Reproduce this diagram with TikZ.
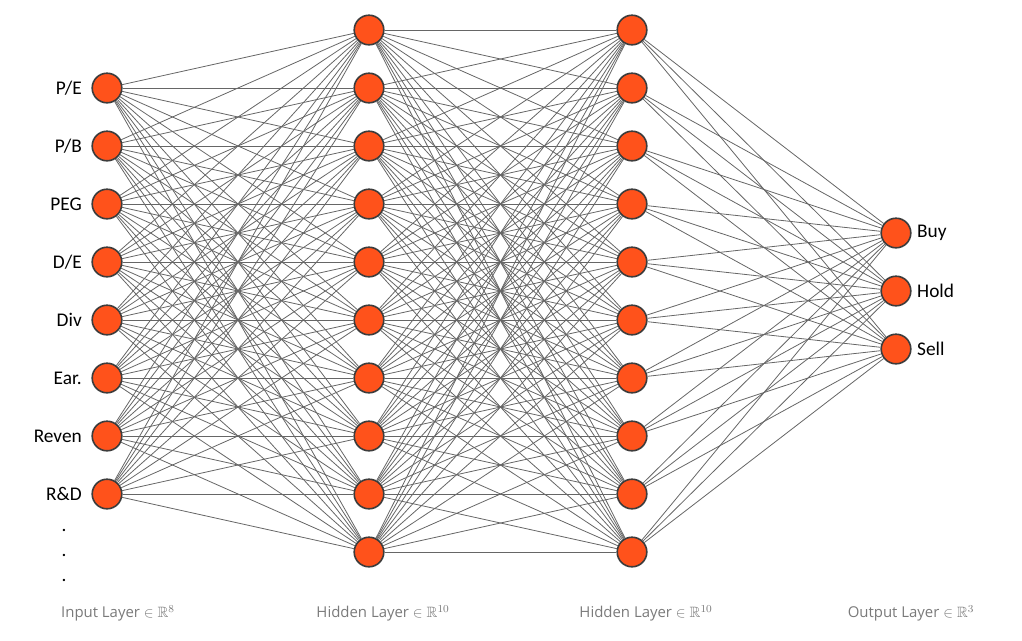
\documentclass[tikz,border=0pt]{standalone}
\usepackage{fontspec}
\usepackage{amssymb}
\setmainfont{Carlito}
\newfontfamily\capfont{Open Sans}
\usetikzlibrary{backgrounds}
\definecolor{nodeorange}{HTML}{FF521B}
\definecolor{rimgray}{HTML}{3C3C3C}
\definecolor{edgegray}{HTML}{666666}
\definecolor{captiongray}{HTML}{7A7A7A}

\begin{document}
\begin{tikzpicture}[
  x=0.75pt, y=-0.75pt,
  neuron/.style={circle, draw=rimgray, fill=nodeorange, line width=1.2pt, minimum size=22.2pt, inner sep=0pt},
  wire/.style={draw=edgegray, line width=0.6pt},
  feature/.style={font=\fontsize{14.5}{16}\selectfont, inner sep=0pt},
  caption/.style={font=\capfont\fontsize{11.2}{13}\selectfont, text=captiongray}
]
\useasboundingbox (0,0) rectangle (1022,640);
% layers
\foreach \feat [count=\i] in {P/E,P/B,PEG,D/E,Div,Ear.,Reven,R\&D}
  \node[neuron, label={[feature, label distance=7pt]left:\feat}] (in\i) at (107, 30+58*\i) {};
\foreach \i in {1,...,10}
  \node[neuron] (ha\i) at (369, -28+58*\i) {};
\foreach \i in {1,...,10}
  \node[neuron] (hb\i) at (632, -28+58*\i) {};
\foreach \act [count=\i] in {Buy,Hold,Sell}
  \node[neuron, label={[feature, label distance=4pt]right:\act}] (out\i) at (896, 175+58*\i) {};
\foreach \k in {1,2,3}
  \node[feature, anchor=base] (dot\k) at (64, 506+25*\k) {.};
% weights
\begin{scope}[on background layer]
\foreach \i in {1,...,8}
  \foreach \j in {1,...,10}
    \draw[wire] (in\i) -- (ha\j);
\foreach \i in {1,...,10}
  \foreach \j in {1,...,10}
    \draw[wire] (ha\i) -- (hb\j);
\foreach \i in {1,...,10}
  \foreach \j in {1,...,3}
    \draw[wire] (hb\i) -- (out\j);
\end{scope}
% captions
\node[caption] (capin)  at (118, 613) {Input Layer $\in\mathbb{R}^{8}$};
\node[caption] (capha)  at (383, 613) {Hidden Layer $\in\mathbb{R}^{10}$};
\node[caption] (caphb)  at (646, 613) {Hidden Layer $\in\mathbb{R}^{10}$};
\node[caption] (capout) at (911, 613) {Output Layer $\in\mathbb{R}^{3}$};
\end{tikzpicture}
\end{document}
